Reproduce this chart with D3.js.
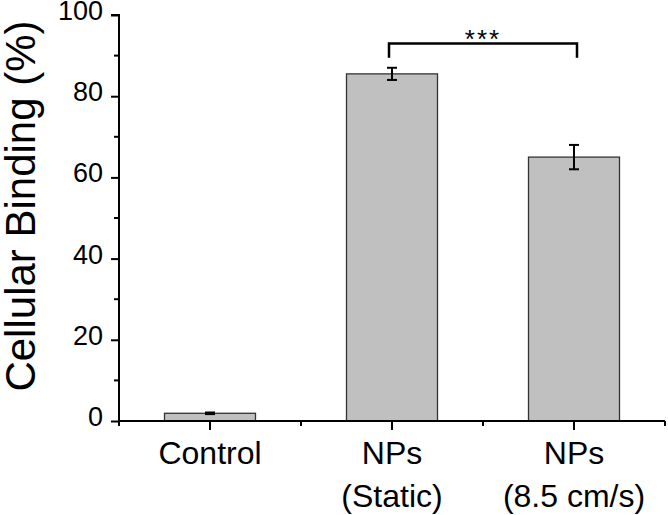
<!DOCTYPE html>
<html>
<head>
<meta charset="utf-8">
<script src="https://cdn.jsdelivr.net/npm/d3@7"></script>
<style>
  html, body { margin: 0; padding: 0; background: #fff; }
  svg { display: block; }
  text { font-family: "Liberation Sans", Arial, sans-serif; fill: #000; }
</style>
</head>
<body>
<svg id="chart" width="668" height="515"></svg>
<script>
// ---- data ----
const categories = ["Control", "NPs (Static)", "NPs (8.5 cm/s)"];
const labelLines = [["Control"], ["NPs", "(Static)"], ["NPs", "(8.5 cm/s)"]];
const values = [1.9, 85.5, 65.0];
const errors = [0.2, 1.5, 3.0];
const yTicks = [0, 20, 40, 60, 80, 100];
const yMinorTicks = [10, 30, 50, 70, 90];
const sigPair = ["NPs (Static)", "NPs (8.5 cm/s)"];
const sigLabel = "***";
const sigLevels = [93, 89.5];

// ---- layout ----
const svg = d3.select("#chart");
const mLeft = 119, mRight = 665, mTop = 15, mBottom = 421;

const x = d3.scaleBand().domain(categories).range([mLeft, mRight])
  .paddingInner(0.5).paddingOuter(0.25);
const y = d3.scaleLinear().domain([0, 100]).range([mBottom, mTop]);
const step = x.step();

// bars
svg.append("g").selectAll("rect").data(categories).join("rect")
  .attr("x", d => x(d))
  .attr("y", (d, i) => y(values[i]))
  .attr("width", x.bandwidth())
  .attr("height", (d, i) => y(0) - y(values[i]))
  .attr("fill", "#c0c0c0")
  .attr("stroke", "#333")
  .attr("stroke-width", 1.3);

// error bars
const eb = svg.append("g").attr("stroke", "#000").attr("stroke-width", 2);
categories.forEach((c, i) => {
  const cx = x(c) + x.bandwidth() / 2;
  const y1 = y(values[i] + errors[i]), y2 = y(values[i] - errors[i]);
  eb.append("line").attr("x1", cx).attr("x2", cx).attr("y1", y1).attr("y2", y2);
  eb.append("line").attr("x1", cx - 5).attr("x2", cx + 5).attr("y1", y1).attr("y2", y1);
  eb.append("line").attr("x1", cx - 5).attr("x2", cx + 5).attr("y1", y2).attr("y2", y2);
});

// y axis
const yAxis = svg.append("g").attr("transform", `translate(${mLeft},0)`)
  .call(d3.axisLeft(y).tickValues(yTicks).tickSize(8).tickPadding(8).tickFormat(d3.format("d")));
yAxis.select(".domain").attr("d", `M0,${mBottom}V${mTop}H-8`).attr("stroke-width", 2).attr("fill", "none");
yAxis.selectAll(".tick line").attr("stroke-width", 2);
yAxis.selectAll(".tick text").attr("font-size", 27).attr("dy", "0.17em");
yAxis.selectAll(".minor").data(yMinorTicks).join("line").attr("class", "minor")
  .attr("x1", -5).attr("x2", 0).attr("y1", d => y(d)).attr("y2", d => y(d))
  .attr("stroke", "#000").attr("stroke-width", 2);

// x axis
const xAxis = svg.append("g").attr("transform", `translate(0,${mBottom})`);
xAxis.append("line").attr("x1", mLeft).attr("x2", mRight).attr("y1", 0).attr("y2", 0)
  .attr("stroke", "#000").attr("stroke-width", 2);
categories.forEach((c, i) => {
  const cx = x(c) + x.bandwidth() / 2;
  xAxis.append("line").attr("x1", cx).attr("x2", cx).attr("y1", 0).attr("y2", 9)
    .attr("stroke", "#000").attr("stroke-width", 2);
  const t = xAxis.append("text").attr("text-anchor", "middle").attr("font-size", 32)
    .attr("x", cx);
  labelLines[i].forEach((ln, k) => {
    t.append("tspan").attr("x", cx).attr("y", 43 + k * 43).text(ln);
  });
});
const bounds = [categories[0]].concat(categories).map((c, i) =>
  i === 0 ? x(c) + x.bandwidth() / 2 - step / 2 : x(c) + x.bandwidth() / 2 + step / 2);
xAxis.selectAll(".minor").data(bounds).join("line").attr("class", "minor")
  .attr("x1", d => d).attr("x2", d => d).attr("y1", 0).attr("y2", 5)
  .attr("stroke", "#000").attr("stroke-width", 2);

// y title
svg.append("text")
  .attr("transform", `translate(35,${(mTop + mBottom) / 2 - 12}) rotate(-90)`)
  .attr("text-anchor", "middle")
  .attr("font-size", 42)
  .text("Cellular Binding (%)");

// significance bracket
const bx1 = x(sigPair[0]) + x.bandwidth() / 2 - 3;
const bx2 = x(sigPair[1]) + x.bandwidth() / 2 + 3;
svg.append("path")
  .attr("d", `M${bx1},${y(sigLevels[1])}V${y(sigLevels[0])}H${bx2}V${y(sigLevels[1])}`)
  .attr("fill", "none").attr("stroke", "#000").attr("stroke-width", 2.5);
svg.append("text").attr("x", (bx1 + bx2) / 2).attr("y", y(sigLevels[0]) + 5)
  .attr("text-anchor", "middle").attr("font-size", 26).attr("letter-spacing", 2)
  .text(sigLabel);
</script>
</body>
</html>
